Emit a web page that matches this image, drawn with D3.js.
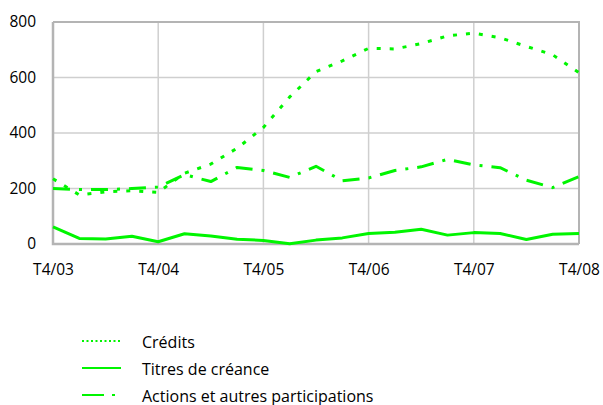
<!DOCTYPE html>
<html>
<head>
<meta charset="utf-8">
<script src="https://cdn.jsdelivr.net/npm/d3@7"></script>
<style>
  html, body { margin: 0; padding: 0; background: #fff; }
  svg { display: block; font-family: "Open Sans", Lato, sans-serif; }
</style>
</head>
<body>
<svg id="chart" width="603" height="405"></svg>
<script>
// Quarterly periods, T4/03 through T4/08
const periods = [
  "T4/03", "T1/04", "T2/04", "T3/04", "T4/04", "T1/05", "T2/05", "T3/05", "T4/05",
  "T1/06", "T2/06", "T3/06", "T4/06", "T1/07", "T2/07", "T3/07", "T4/07",
  "T1/08", "T2/08", "T3/08", "T4/08"
];
const tickLabels = ["T4/03", "T4/04", "T4/05", "T4/06", "T4/07", "T4/08"];
const yTicks = [0, 200, 400, 600, 800];

const credits = [235, 177, 188, 192, 186, 255, 288, 345, 420, 530, 621, 660, 705, 703, 722, 750, 760, 743, 712, 682, 617];
const titres = [62, 20, 18, 28, 8, 37, 29, 17, 13, 1, 14, 22, 38, 42, 53, 32, 41, 38, 16, 35, 38];
const actions = [200, 196, 196, 200, 205, 250, 225, 276, 265, 240, 280, 228, 238, 265, 278, 305, 285, 275, 230, 203, 243];

const seriesNames = ["Crédits", "Titres de créance", "Actions et autres participations"];

const svg = d3.select("#chart");
const margin = { left: 53, right: 24, top: 22, bottom: 161 };
const W = 603, H = 405;

const x = d3.scalePoint().domain(periods).range([margin.left, W - margin.right]);
const y = d3.scaleLinear().domain([0, 800]).range([H - margin.bottom, margin.top]);

const green = "#00f500";
const grid = "#cfcfcf";
const frame = "#b4b4b4";

// horizontal grid
svg.append("g").selectAll("line").data(yTicks.slice(1, -1)).join("line")
  .attr("x1", margin.left).attr("x2", W - margin.right)
  .attr("y1", d => y(d)).attr("y2", d => y(d))
  .attr("stroke", grid).attr("stroke-width", 1.5);

// vertical grid at year-end quarters
svg.append("g").selectAll("line").data(tickLabels.slice(1, -1)).join("line")
  .attr("x1", d => x(d)).attr("x2", d => x(d))
  .attr("y1", margin.top).attr("y2", H - margin.bottom)
  .attr("stroke", grid).attr("stroke-width", 1.5);

// plot frame
svg.append("path")
  .attr("d", `M${margin.left},${margin.top}H${W - margin.right}V${H - margin.bottom}`)
  .attr("fill", "none").attr("stroke", frame).attr("stroke-width", 2);
svg.append("path")
  .attr("d", `M${margin.left},${margin.top}V${H - margin.bottom}H${W - margin.right}`)
  .attr("fill", "none").attr("stroke", frame).attr("stroke-width", 2.5);

// y axis labels
const yAxis = d3.axisLeft(y).tickValues(yTicks).tickSize(0).tickPadding(17);
const gy = svg.append("g").attr("transform", `translate(${margin.left},0)`).call(yAxis);
gy.select(".domain").remove();
gy.selectAll("text").attr("font-size", 15.5).attr("fill", "#000").attr("font-family", "'Open Sans', sans-serif");

// x axis labels
const xAxis = d3.axisBottom(x).tickValues(tickLabels).tickSize(0).tickPadding(20);
const gx = svg.append("g").attr("transform", `translate(0,${H - margin.bottom})`).call(xAxis);
gx.select(".domain").remove();
gx.selectAll("text").attr("font-size", 15.5).attr("fill", "#000").attr("font-family", "'Open Sans', sans-serif");

// series lines
const line = d3.line().x((d, i) => x(periods[i])).y(d => y(d));
const series = [
  { name: seriesNames[0], values: credits, dash: "4,9", legendDash: "2,2.5" },
  { name: seriesNames[1], values: titres, dash: null, legendDash: null },
  { name: seriesNames[2], values: actions, dash: "17,9,3,9", legendDash: "22,8,3,8" }
];

svg.append("g").selectAll("path").data(series).join("path")
  .attr("d", d => line(d.values))
  .attr("fill", "none").attr("stroke", green).attr("stroke-width", 3)
  .attr("stroke-linejoin", "round")
  .attr("stroke-dasharray", d => d.dash);

// legend
const lg = svg.append("g");
const rows = lg.selectAll("g").data(series).join("g")
  .attr("transform", (d, i) => `translate(0,${341 + i * 27})`);
rows.append("line")
  .attr("x1", 82).attr("x2", 121).attr("y1", 0).attr("y2", 0)
  .attr("stroke", green).attr("stroke-width", 2)
  .attr("stroke-dasharray", d => d.legendDash);
rows.append("text")
  .attr("x", 142).attr("y", 6.5)
  .attr("font-size", 16).attr("fill", "#000")
  .text(d => d.name);
</script>
</body>
</html>
